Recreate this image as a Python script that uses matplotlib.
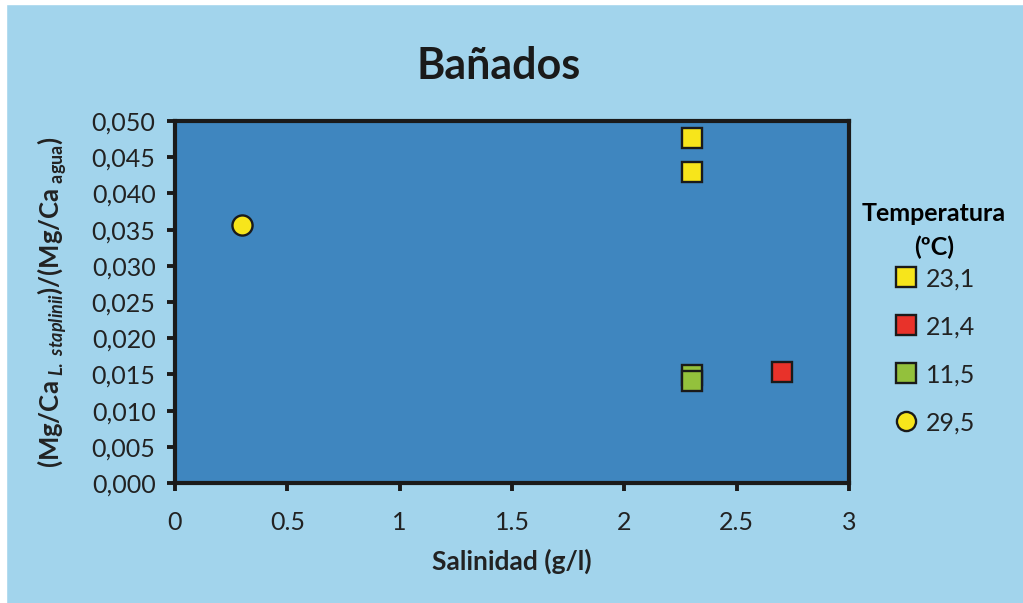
import matplotlib.pyplot as plt
from matplotlib.patches import Rectangle
from matplotlib.ticker import FuncFormatter

plt.rcParams['font.family'] = ['Lato', 'DejaVu Sans']
plt.rcParams['mathtext.fontset'] = 'custom'
plt.rcParams['mathtext.rm'] = 'Lato:bold'
plt.rcParams['mathtext.it'] = 'Lato:bold:italic'

# Data: salinity (g/l) vs Mg/Ca ratio
temp_labels = ['23,1', '21,4', '11,5', '29,5']
sal_231 = [2.3, 2.3]
ratio_231 = [0.0476, 0.0430]
sal_214 = [2.7]
ratio_214 = [0.0153]
sal_115 = [2.3, 2.3]
ratio_115 = [0.0149, 0.0141]
sal_295 = [0.3]
ratio_295 = [0.0356]

x_ticks = [0, 0.5, 1, 1.5, 2, 2.5, 3]
y_ticks = [0.000, 0.005, 0.010, 0.015, 0.020, 0.025, 0.030, 0.035, 0.040, 0.045, 0.050]

bg = '#A2D4EC'
face = '#3F86BF'

fig = plt.figure(figsize=(10.23, 6.03), dpi=100, facecolor=bg)
# thin white border on top/left as in the scanned image
fig.patches.append(Rectangle((0, 0), 6 / 1023, 1, transform=fig.transFigure, color='white', zorder=-1))
fig.patches.append(Rectangle((0, 1 - 4 / 603), 1, 4 / 603, transform=fig.transFigure, color='white', zorder=-1))

ax = fig.add_axes([175 / 1023, 1 - 483 / 603, (849 - 175) / 1023, (483 - 121) / 603])
ax.set_facecolor(face)

ms = 14.5
ax.plot(sal_231, ratio_231, 's', ms=ms, mfc='#F7E51B', mec='#1a1a1a', mew=1.7, label=temp_labels[0])
ax.plot(sal_214, ratio_214, 's', ms=ms, mfc='#E8322A', mec='#1a1a1a', mew=1.7, label=temp_labels[1])
ax.plot(sal_115, ratio_115, 's', ms=ms, mfc='#93C13C', mec='#1a1a1a', mew=1.7, label=temp_labels[2])
ax.plot(sal_295, ratio_295, 'o', ms=ms, mfc='#F7E51B', mec='#1a1a1a', mew=1.7, label=temp_labels[3])

ax.set_xlim(0, 3)
ax.set_ylim(0, 0.05)
ax.set_xticks(x_ticks)
ax.set_yticks(y_ticks)
ax.xaxis.set_major_formatter(FuncFormatter(lambda v, p: ('%g' % v)))
ax.yaxis.set_major_formatter(FuncFormatter(lambda v, p: ('%.3f' % v).replace('.', ',')))
ax.tick_params(axis='both', direction='out', length=6, width=2.8, color='#1a1a1a',
               labelsize=18, labelcolor='#222222')
ax.tick_params(axis='x', pad=14)
ax.tick_params(axis='y', pad=8)
for s in ax.spines.values():
    s.set_linewidth(3)
    s.set_color('#1a1a1a')

ax.set_title('Bañados', fontsize=31, fontweight='bold', color='#1a1a1a', pad=30, x=0.48)
ax.set_xlabel('Salinidad (g/l)', fontsize=19, fontweight='bold', color='#222222', labelpad=11)
ax.set_ylabel(r'(Mg/Ca$_{\ \it{L.\ staplinii}}$)/(Mg/Ca$_{\ \rm{agua}}$)', fontsize=18.5,
              fontweight='bold', color='#222222', labelpad=16)

leg = ax.legend(title='Temperatura\n(ºC)', loc='upper left', bbox_to_anchor=(1.0045, 0.8025),
                frameon=False, fontsize=18, title_fontsize=18, labelspacing=1.0,
                handlelength=1.0, handletextpad=0.3, borderaxespad=0, markerscale=0.95)
leg.get_title().set_fontweight('bold')
leg.get_title().set_multialignment('center')
leg.get_title().set_linespacing(1.5)
leg._legend_box.sep = 6
for t in leg.get_texts():
    t.set_color('#222222')

fig.savefig('out.png', dpi=100, facecolor=fig.get_facecolor())
